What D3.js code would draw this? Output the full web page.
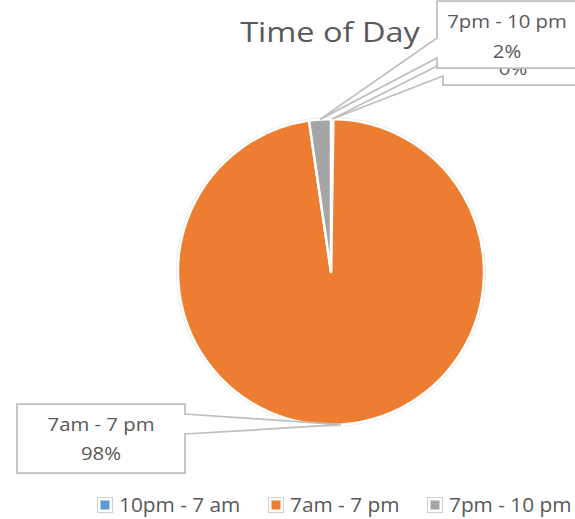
<!DOCTYPE html>
<html><head><meta charset="utf-8">
<script src="https://cdn.jsdelivr.net/npm/d3@7"></script>
<style>html,body{margin:0;padding:0;background:#fff;}svg{display:block;font-family:"Open Sans",Lato,sans-serif;}</style>
</head><body><svg id="c" width="575" height="519"></svg>
<script>
const categories = ["10pm - 7 am", "7am - 7 pm", "7pm - 10 pm"];
const values = [0.25, 97.45, 2.3];
const percentLabels = ["0%", "98%", "2%"];
const colors = ["#5B9BD5", "#ED7D31", "#A5A5A5"];
const title = "Time of Day";

const svg = d3.select("#c");
const cx = 331, cy = 272, R = 153;
const textColor = "#595959";

function stext(parent, x, y, size, sx, anchor, str) {
  return parent.append("text")
    .attr("transform", `translate(${x},${y}) scale(${sx},1)`)
    .attr("text-anchor", anchor).attr("font-size", size)
    .attr("fill", textColor).text(str);
}

stext(svg, 330, 42, 28, 1.16, "middle", title);

const pie = d3.pie().sort(null).value(d => d)(values);
const arc = d3.arc().innerRadius(0).outerRadius(R);
const g = svg.append("g").attr("transform", `translate(${cx},${cy})`);
g.append("circle").attr("r", R + 1.5).attr("fill", "none").attr("stroke", "#e3e3e3").attr("stroke-width", 1);
g.selectAll("path").data(pie).join("path")
  .attr("d", arc).attr("fill", (d, i) => colors[i])
  .attr("stroke", "#fff").attr("stroke-width", 2.5).attr("stroke-linejoin", "round");

function anchorPt(d) {
  const a = (d.startAngle + d.endAngle) / 2;
  return [cx + R * Math.sin(a), cy - R * Math.cos(a)];
}

const callouts = [
  {i: 0, x0: 443, y0: 18, x1: 585, y1: 85, side: "left", p1: 63, p2: 76, b1: 45, b2: 75, tx: 513},
  {i: 2, x0: 437, y0: 1, x1: 579, y1: 68, side: "left", p1: 38, p2: 58, b1: 28, b2: 58, tx: 507},
  {i: 1, x0: 17, y0: 404, x1: 185, y1: 473, side: "right", p1: 414, p2: 434, b1: 431, b2: 460, tx: 101}
];
callouts.forEach(c => {
  const [ax, ay] = anchorPt(pie[c.i]);
  let p;
  if (c.side === "left") {
    p = `M${c.x0},${c.y0}H${c.x1}V${c.y1}H${c.x0}V${c.p2}L${ax},${ay}L${c.x0},${c.p1}Z`;
  } else {
    p = `M${c.x0},${c.y0}H${c.x1}V${c.p1}L${ax},${ay}L${c.x1},${c.p2}V${c.y1}H${c.x0}Z`;
  }
  const cg = svg.append("g");
  cg.append("path").attr("d", p).attr("fill", "#fff").attr("stroke", "#BFBFBF").attr("stroke-width", 1.75);
  stext(cg, c.tx, c.b1, 18, 1.13, "middle", categories[c.i]);
  stext(cg, c.tx, c.b2, 18, 1.13, "middle", percentLabels[c.i]);
});

const legendX = [97, 268, 427];
const lg = svg.append("g");
categories.forEach((c, i) => {
  const x = legendX[i];
  lg.append("rect").attr("x", x + 0.5).attr("y", 497.5).attr("width", 15).attr("height", 15).attr("fill", "#fff").attr("stroke", "#D0D0D0").attr("stroke-width", 1);
  lg.append("rect").attr("x", x + 3.5).attr("y", 500.5).attr("width", 9).attr("height", 9).attr("fill", colors[i]);
  stext(lg, x + 22, 512, 20, 1.04, "start", c);
});
</script></body></html>
